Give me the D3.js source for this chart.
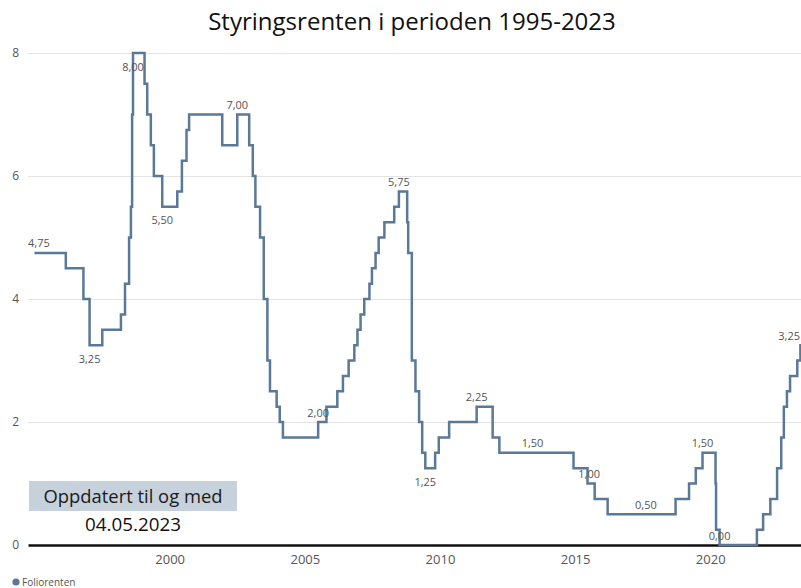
<!DOCTYPE html>
<html>
<head>
<meta charset="utf-8">
<script src="https://cdn.jsdelivr.net/npm/d3@7"></script>
<style>
  body { margin: 0; background: #fff; }
  svg { display: block; }
</style>
</head>
<body>
<svg id="chart" width="801" height="588"></svg>
<script>
// Norges Bank key policy rate (foliorenten): dates when the rate changed and the new level
const rateDates = [
  "1995-01-01", "1996-02-28", "1996-10-23", "1997-01-14", "1997-07-05",
  "1998-03-14", "1998-05-08", "1998-07-02", "1998-07-27", "1998-08-12",
  "1998-08-24", "1999-01-27", "1999-03-04", "1999-04-22", "1999-06-02",
  "1999-09-23", "2000-04-13", "2000-06-15", "2000-08-16", "2000-09-20",
  "2001-12-12", "2002-07-03", "2002-12-11", "2003-01-29", "2003-03-05",
  "2003-05-07", "2003-06-26", "2003-08-14", "2003-09-18", "2003-12-17",
  "2004-01-28", "2004-03-11", "2005-06-30", "2005-10-20", "2006-03-16",
  "2006-05-31", "2006-08-16", "2006-11-01", "2006-12-13", "2007-01-24",
  "2007-03-15", "2007-05-24", "2007-06-27", "2007-08-15", "2007-09-26",
  "2007-12-12", "2008-04-23", "2008-06-25", "2008-10-15", "2008-10-29",
  "2008-12-17", "2009-02-04", "2009-03-25", "2009-05-06", "2009-06-17",
  "2009-10-28", "2009-12-16", "2010-05-05", "2011-05-12", "2011-12-14",
  "2012-03-14", "2014-12-11", "2015-06-18", "2015-09-23", "2016-03-16",
  "2018-09-20", "2019-03-21", "2019-06-20", "2019-09-19", "2020-03-13",
  "2020-03-20", "2020-05-07", "2021-09-23", "2021-12-16", "2022-03-24",
  "2022-06-23", "2022-08-18", "2022-09-22", "2022-11-03", "2022-12-15",
  "2023-03-23", "2023-05-04"
];
const rateValues = [
  4.75, 4.50, 4.00, 3.25, 3.50,
  3.75, 4.25, 5.00, 5.50, 7.00,
  8.00, 7.50, 7.00, 6.50, 6.00,
  5.50, 5.75, 6.25, 6.75, 7.00,
  6.50, 7.00, 6.50, 6.00, 5.50,
  5.00, 4.00, 3.00, 2.50, 2.25,
  2.00, 1.75, 2.00, 2.25, 2.50,
  2.75, 3.00, 3.25, 3.50, 3.75,
  4.00, 4.25, 4.50, 4.75, 5.00,
  5.25, 5.50, 5.75, 5.25, 4.75,
  3.00, 2.50, 2.00, 1.50, 1.25,
  1.50, 1.75, 2.00, 2.25, 1.75,
  1.50, 1.25, 1.00, 0.75, 0.50,
  0.75, 1.00, 1.25, 1.50, 1.00,
  0.25, 0.00, 0.25, 0.50, 0.75,
  1.25, 1.75, 2.25, 2.50, 2.75,
  3.00, 3.25
];
const lastDate = "2023-05-04";

// Dates that get a value label, and whether the label sits over or under the line
const labelDates = [
  "1995-01-01", "1997-01-14", "1998-08-24", "1999-09-23", "2002-07-03",
  "2005-06-30", "2008-06-25", "2009-06-17", "2011-05-12", "2013-06-05",
  "2015-07-10", "2017-08-15", "2019-09-19", "2020-05-07", "2023-05-04"
];
const labelSides = [
  "over", "under", "under", "under", "over",
  "over", "over", "under", "over", "over",
  "over", "over", "over", "over", "over"
];

const yTicks = [0, 2, 4, 6, 8];
const xTickYears = [2000, 2005, 2010, 2015, 2020];

const titleText = "Styringsrenten i perioden 1995-2023";
const seriesName = "Foliorenten";
const noteLines = ["Oppdatert til og med", "04.05.2023"];

// ---- drawing ----
const plotLeft = 28, plotRight = 801, plotTop = 53, plotBottom = 545;
const lineColor = "#5a7898";
const font = "'Open Sans', 'Noto Sans', sans-serif";
const parse = d3.timeParse("%Y-%m-%d");

const svg = d3.select("#chart");

const x = d3.scaleTime()
  .domain([new Date(1994, 9, 5), new Date(2023, 4, 12)])
  .range([plotLeft, plotRight]);
const y = d3.scaleLinear().domain([0, 8]).range([plotBottom, plotTop]);

const series = rateDates.map((d, i) => ({ date: parse(d), value: rateValues[i] }));
const seriesEnd = { date: parse(lastDate), value: rateValues[rateValues.length - 1] };
series.push({ date: d3.timeDay.offset(seriesEnd.date, 30), value: seriesEnd.value });

const rateAt = date => {
  const i = d3.bisector(d => d.date).right(series, date) - 1;
  return series[Math.max(0, i)].value;
};

// title, sized to the span it occupies
const title = svg.append("text")
  .attr("x", 412).attr("y", 30)
  .attr("text-anchor", "middle")
  .attr("font-family", font)
  .attr("font-size", 20)
  .attr("fill", "#111")
  .text(titleText);
const tw = title.node().getComputedTextLength();
title.attr("font-size", 20 * 408 / tw);

// horizontal gridlines
svg.append("g")
  .attr("transform", `translate(${plotLeft},0)`)
  .call(d3.axisLeft(y).tickValues(yTicks.filter(v => v !== 0)).tickSize(-(plotRight - plotLeft)).tickFormat(""))
  .call(g => g.select(".domain").remove())
  .call(g => g.selectAll("line").attr("stroke", "#e4e4e4").attr("stroke-width", 1));

// y tick labels
svg.append("g")
  .attr("transform", "translate(19,0)")
  .call(d3.axisLeft(y).tickValues(yTicks).tickSize(0).tickPadding(0).tickFormat(d3.format("d")))
  .call(g => g.select(".domain").remove())
  .call(g => g.selectAll("text")
    .attr("font-family", font).attr("font-size", 12).attr("fill", "#555"));

// x axis with the zero line
svg.append("g")
  .attr("transform", `translate(0,${plotBottom})`)
  .call(d3.axisBottom(x)
    .tickValues(xTickYears.map(yr => new Date(yr, 0, 1)))
    .tickFormat(d3.timeFormat("%Y"))
    .tickSize(0).tickPadding(10))
  .call(g => g.select(".domain").attr("stroke", "#111").attr("stroke-width", 2.5))
  .call(g => g.selectAll("text")
    .attr("font-family", font).attr("font-size", 13).attr("fill", "#555"));

// rate line
const line = d3.line()
  .x(d => x(d.date))
  .y(d => y(d.value))
  .curve(d3.curveStepAfter);

svg.append("path")
  .datum(series)
  .attr("d", line)
  .attr("fill", "none")
  .attr("stroke", lineColor)
  .attr("stroke-width", 2.5)
  .attr("stroke-linejoin", "miter");

// value labels, kept inside the plot's horizontal extent
const fmt = v => d3.format(".2f")(v).replace(".", ",");
const labelG = svg.append("g");
labelDates.forEach((ds, i) => {
  const date = parse(ds);
  const v = rateAt(date);
  const t = labelG.append("text")
    .attr("font-family", font).attr("font-size", 11).attr("fill", "#555")
    .attr("text-anchor", "middle")
    .text(fmt(v));
  const w = t.node().getComputedTextLength();
  let cx = x(date);
  cx = Math.max(plotLeft + w / 2, Math.min(plotRight - 1 - w / 2, cx));
  const cy = y(v) + (labelSides[i] === "under" ? 13.5 : -9.5);
  t.attr("x", cx).attr("y", cy + 4);
});

// update note
svg.append("rect")
  .attr("x", 29).attr("y", 481).attr("width", 208).attr("height", 30)
  .attr("fill", "#c6d1dc");
const n1 = svg.append("text")
  .attr("x", 133).attr("y", 503)
  .attr("text-anchor", "middle")
  .attr("font-family", font).attr("font-size", 17).attr("fill", "#1a1a1a")
  .text(noteLines[0]);
n1.attr("font-size", 17 * 179 / n1.node().getComputedTextLength());
const n2 = svg.append("text")
  .attr("x", 133).attr("y", 531)
  .attr("text-anchor", "middle")
  .attr("font-family", font).attr("font-size", 17).attr("fill", "#111")
  .text(noteLines[1]);
n2.attr("font-size", 17 * 96 / n2.node().getComputedTextLength());

// legend
svg.append("circle").attr("cx", 16).attr("cy", 582).attr("r", 3.6).attr("fill", lineColor);
svg.append("text")
  .attr("x", 22).attr("y", 586)
  .attr("font-family", font).attr("font-size", 10).attr("fill", "#555")
  .text(seriesName);
</script>
</body>
</html>
